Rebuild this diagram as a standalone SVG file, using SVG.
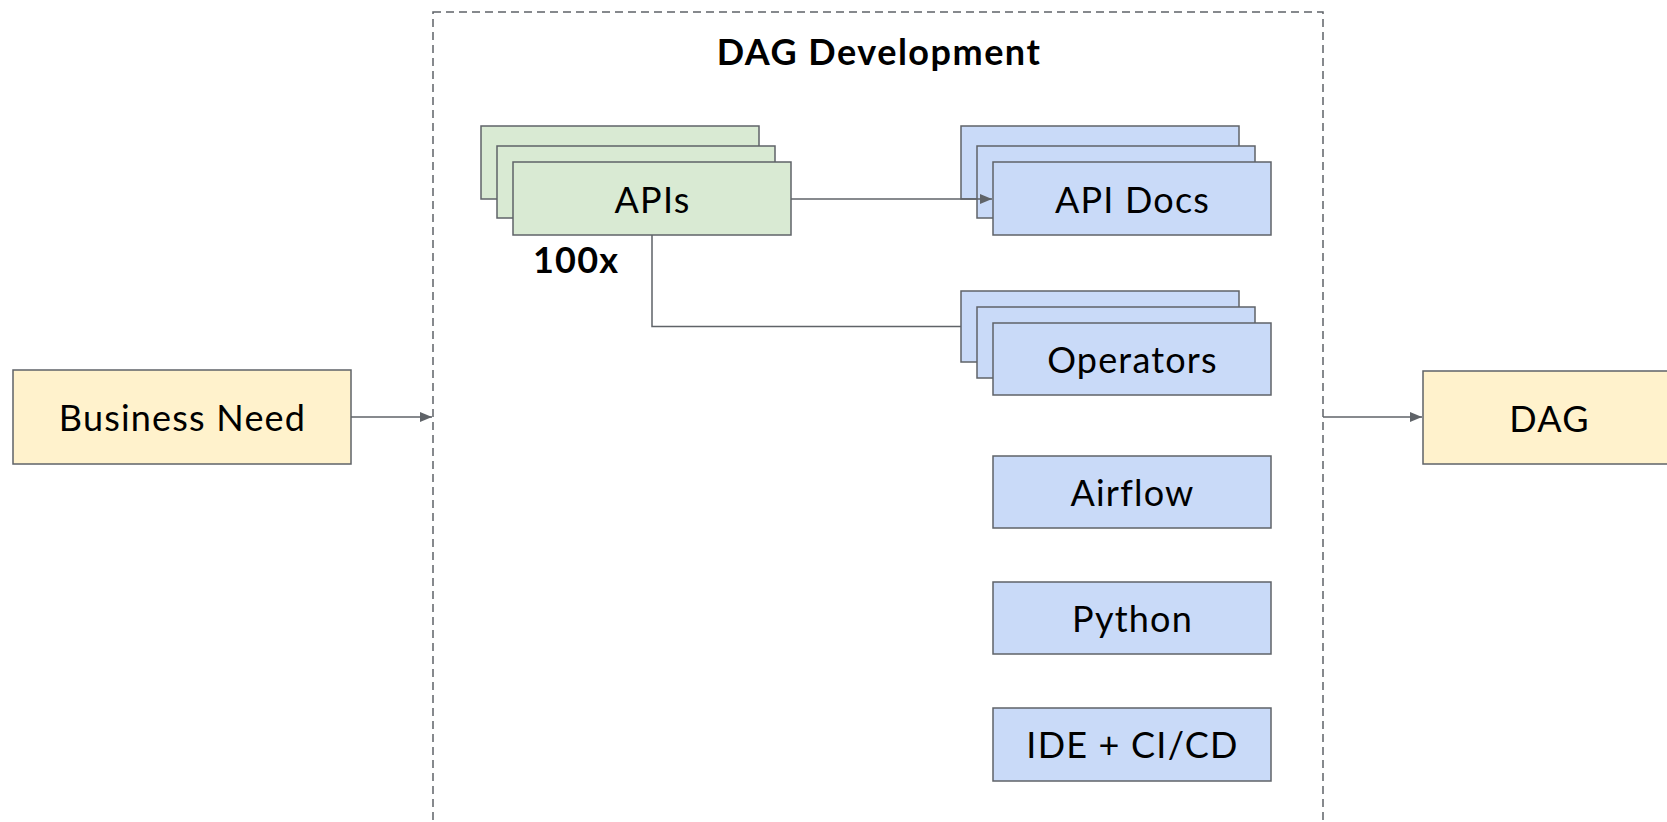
<svg xmlns="http://www.w3.org/2000/svg" width="1667" height="822" viewBox="0 0 1667 822">
<style>
.box{stroke:#5f6368;stroke-width:1.5}
.g{fill:#d9ead3}
.b{fill:#c9daf8}
.y{fill:#fff2cc}
.t{font-family:Lato,"Liberation Sans",sans-serif;font-size:36px;letter-spacing:1.2px;fill:#000;text-anchor:middle}
.bold{font-family:Lato,"Liberation Sans",sans-serif;font-weight:bold;font-size:36px;letter-spacing:1.2px;fill:#000}
.conn{fill:none;stroke:#5f6368;stroke-width:1.5}
</style>
<defs>
<marker id="arr" markerUnits="userSpaceOnUse" markerWidth="12" markerHeight="10" refX="12" refY="5" orient="auto">
<path d="M0,0 L12,5 L0,10 z" fill="#5f6368"/>
</marker>
</defs>
<rect width="1667" height="822" fill="#fff"/>
<g id="container">
<rect x="433" y="12" width="890" height="840" fill="none" stroke="#5f6368" stroke-width="1.5" stroke-dasharray="8,5"/>
<text class="bold" x="879" y="65" text-anchor="middle" style="letter-spacing:1.5px">DAG Development</text>
</g>
<g id="business-need">
<rect class="box y" x="13" y="370" width="338" height="94"/>
<text class="t" x="182.5" y="431">Business Need</text>
</g>
<g id="dag">
<rect class="box y" x="1423" y="371" width="270" height="93"/>
<text class="t" x="1549.5" y="431.5">DAG</text>
</g>
<g id="apis">
<rect class="box g" x="481" y="126" width="278" height="73"/>
<rect class="box g" x="497" y="146" width="278" height="72"/>
<rect class="box g" x="513" y="162" width="278" height="73"/>
<text class="t" x="652.5" y="212.5">APIs</text>
<text class="bold" x="533" y="273">100x</text>
</g>
<g id="api-docs">
<rect class="box b" x="961" y="126" width="278" height="73"/>
<rect class="box b" x="977" y="146" width="278" height="72"/>
<rect class="box b" x="993" y="162" width="278" height="73"/>
<text class="t" x="1132.5" y="212.5">API Docs</text>
</g>
<g id="operators">
<rect class="box b" x="961" y="291" width="278" height="71"/>
<rect class="box b" x="977" y="307" width="278" height="71"/>
<rect class="box b" x="993" y="323" width="278" height="72"/>
<text class="t" x="1132.5" y="373">Operators</text>
</g>
<g id="airflow">
<rect class="box b" x="993" y="456" width="278" height="72"/>
<text class="t" x="1132.5" y="506">Airflow</text>
</g>
<g id="python">
<rect class="box b" x="993" y="582" width="278" height="72"/>
<text class="t" x="1132.5" y="632">Python</text>
</g>
<g id="ide">
<rect class="box b" x="993" y="708" width="278" height="73"/>
<text class="t" x="1132.5" y="758">IDE + CI/CD</text>
</g>
<g id="connectors">
<path class="conn" d="M351,417 H432" marker-end="url(#arr)"/>
<path class="conn" d="M1323,417 H1422" marker-end="url(#arr)"/>
<path class="conn" d="M791,199 H992" marker-end="url(#arr)"/>
<path class="conn" d="M652,235 V326.5 H961"/>
</g>
</svg>
